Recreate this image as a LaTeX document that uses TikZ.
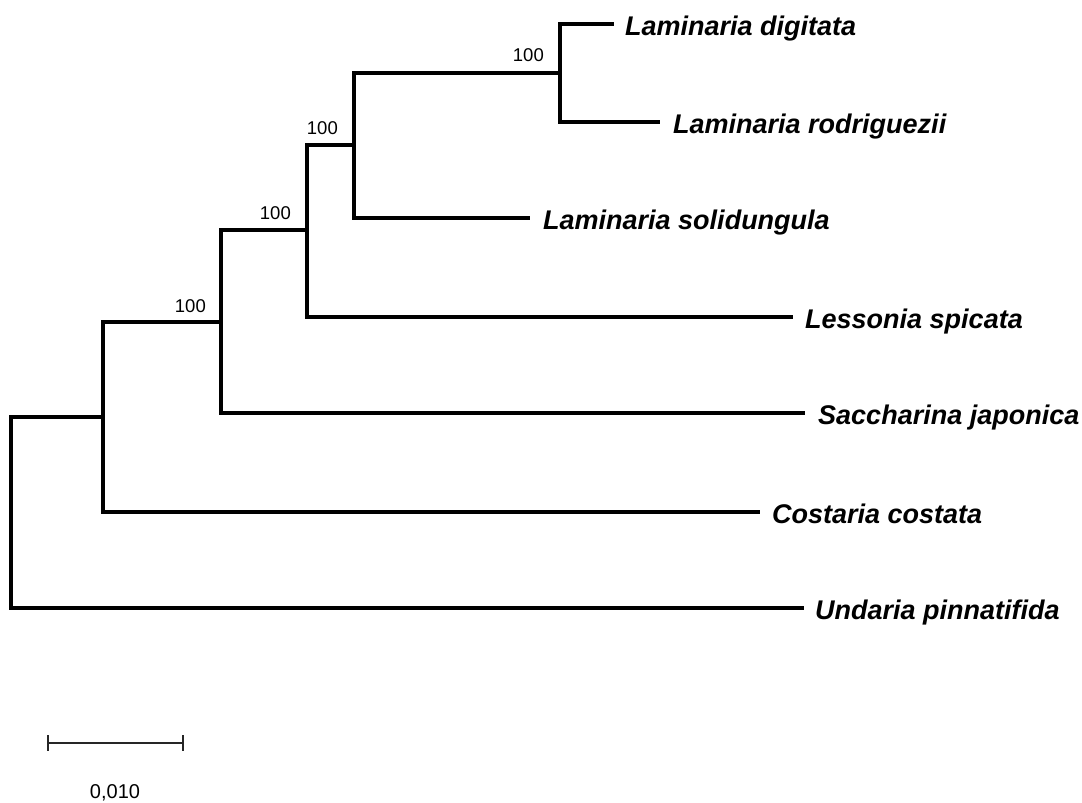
\documentclass[tikz,border=0pt]{standalone}
\usepackage{fontspec}
\setmainfont{Liberation Sans}
\begin{document}
\begin{tikzpicture}[x=1pt,y=-1pt,
  branch/.style={line width=3.3pt,line join=miter,line cap=rect},
  tax/.style={font=\fontsize{27}{30}\selectfont\bfseries\itshape,inner sep=0pt,anchor=base west},
  boot/.style={font=\fontsize{18.5}{20}\selectfont,inner sep=0pt,anchor=base east},
  scalebar/.style={line width=1.8pt,draw=black!85}]
\useasboundingbox (0,0) rectangle (1082,803);
% internal nodes
\coordinate (A) at (560,73);
\coordinate (B) at (354,145);
\coordinate (C) at (307,230);
\coordinate (D) at (221,322);
\coordinate (E) at (103,417);
\coordinate (R) at (11,513);
% tips (branch ends)
\coordinate (ld) at (612,24);
\coordinate (lr) at (658,122);
\coordinate (ls) at (528,218);
\coordinate (le) at (791,317);
\coordinate (sj) at (803,413);
\coordinate (cc) at (758,512);
\coordinate (up) at (802,608);
% branches
\draw[branch] (ld) -| (A) |- (lr);
\draw[branch] (A) -| (B) |- (ls);
\draw[branch] (B) -| (C) |- (le);
\draw[branch] (C) -| (D) |- (sj);
\draw[branch] (D) -| (E) |- (cc);
\draw[branch] (E) -| (R) |- (up);
% taxon labels
\node[tax] (tld) at ([xshift=13pt,yshift=-11pt]ld) {Laminaria digitata};
\node[tax] (tlr) at ([xshift=15pt,yshift=-11pt]lr) {Laminaria rodriguezii};
\node[tax] (tls) at ([xshift=15pt,yshift=-11pt]ls) {Laminaria solidungula};
\node[tax] (tle) at ([xshift=14pt,yshift=-11pt]le) {Lessonia spicata};
\node[tax] (tsj) at ([xshift=15pt,yshift=-11pt]sj) {Saccharina japonica};
\node[tax] (tcc) at ([xshift=14pt,yshift=-11pt]cc) {Costaria costata};
\node[tax] (tup) at ([xshift=13pt,yshift=-11pt]up) {Undaria pinnatifida};
% bootstrap values
\node[boot] (bA) at ([xshift=-16pt,yshift=12pt]A) {100};
\node[boot] (bB) at ([xshift=-16pt,yshift=11pt]B) {100};
\node[boot] (bC) at ([xshift=-16pt,yshift=11pt]C) {100};
\node[boot] (bD) at ([xshift=-15pt,yshift=10pt]D) {100};
% scale bar
\coordinate (s1) at (48,743);
\coordinate (s2) at (183,743);
\draw[scalebar] (s1) -- (s2);
\draw[scalebar] ([yshift=8pt]s1) -- ([yshift=-8pt]s1);
\draw[scalebar] ([yshift=8pt]s2) -- ([yshift=-8pt]s2);
\node[font=\fontsize{20}{22}\selectfont,inner sep=0pt,anchor=base] (sl) at (115,798) {0,010};
\end{tikzpicture}
\end{document}
